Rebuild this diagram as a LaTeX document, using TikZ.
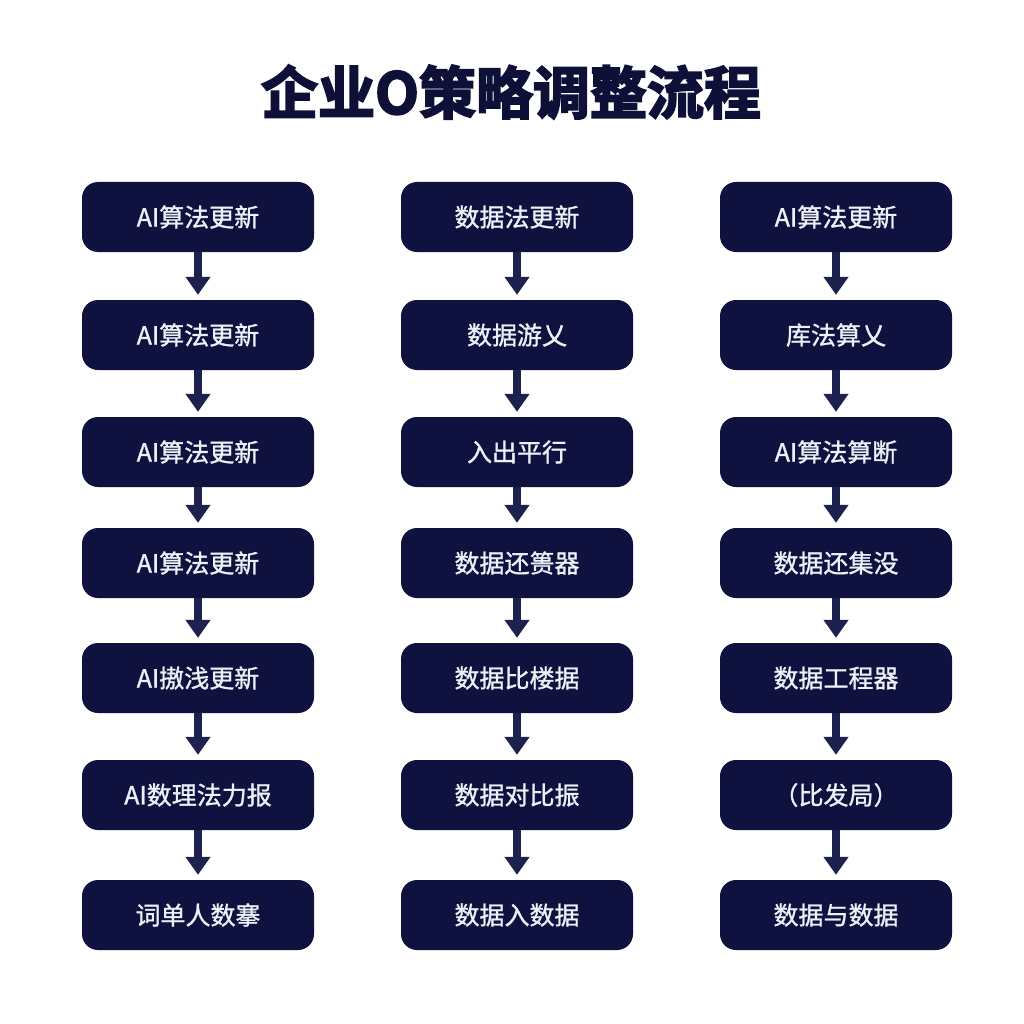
\documentclass[tikz,border=0pt]{standalone}
\usepackage{fontspec}
\usetikzlibrary{arrows.meta}
\newfontfamily\cjk[FakeBold=1.2]{Noto Sans CJK SC}
\newfontfamily\cjktitle[FakeBold=3.5]{Noto Sans CJK SC}[UprightFont=* Bold]
\definecolor{boxnavy}{HTML}{0F123F}
\definecolor{arrnavy}{HTML}{1C214E}
\definecolor{txtwhite}{HTML}{EEF0F8}
\definecolor{titlenavy}{HTML}{0E1038}
\tikzset{
  stepbox/.style={fill=boxnavy, draw=none, rounded corners=16pt, minimum width=232pt,
    minimum height=70pt, inner sep=0pt, text=txtwhite, font=\cjk\fontsize{25}{29}\selectfont},
  flowarrow/.style={draw=arrnavy, line width=8pt,
    -{Triangle[width=24pt,length=18pt]}, shorten >=5pt}
}
\begin{document}
\begin{tikzpicture}[x=1pt,y=-1pt]
\fill[white] (0,0) rectangle (1024,1024);
\useasboundingbox (0,0) rectangle (1024,1024);
\node[text=titlenavy, font=\cjktitle\fontsize{57}{62}\selectfont, inner sep=0pt] (title) at (511,92) {企业O策略调整流程};
% column A
\node[stepbox] (a1) at (198,217) {AI算法更新};
\node[stepbox] (a2) at (198,335) {AI算法更新};
\node[stepbox] (a3) at (198,452) {AI算法更新};
\node[stepbox] (a4) at (198,563) {AI算法更新};
\node[stepbox] (a5) at (198,678) {AI𢳆浅更新};
\node[stepbox] (a6) at (198,795) {AI数理法力报};
\node[stepbox] (a7) at (198,915) {词单人数搴};
% column B
\node[stepbox] (b1) at (517,217) {数据法更新};
\node[stepbox] (b2) at (517,335) {数据游乂};
\node[stepbox] (b3) at (517,452) {入出平行};
\node[stepbox] (b4) at (517,563) {数据还篑器};
\node[stepbox] (b5) at (517,678) {数据比楼据};
\node[stepbox] (b6) at (517,795) {数据对比振};
\node[stepbox] (b7) at (517,915) {数据入数据};
% column C
\node[stepbox] (c1) at (836,217) {AI算法更新};
\node[stepbox] (c2) at (836,335) {库法算乂};
\node[stepbox] (c3) at (836,452) {AI算法算断};
\node[stepbox] (c4) at (836,563) {数据还集没};
\node[stepbox] (c5) at (836,678) {数据工程器};
\node[stepbox] (c6) at (836,795) {（比发局）};
\node[stepbox] (c7) at (836,915) {数据与数据};
\foreach \col in {a,b,c}{
  \foreach \i [evaluate=\i as \j using int(\i+1)] in {1,...,6}{
    \draw[flowarrow] (\col\i.south) -- (\col\j.north);
  }
}
\end{tikzpicture}
\end{document}
